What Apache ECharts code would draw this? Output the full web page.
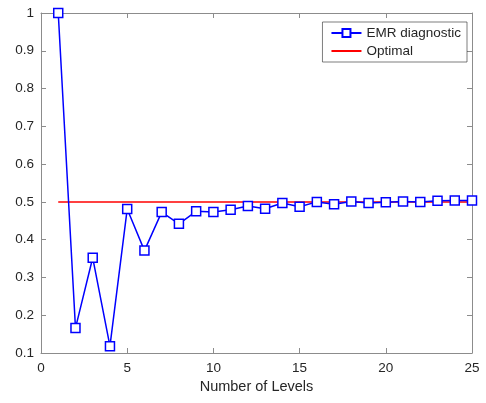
<!DOCTYPE html>
<html>
<head>
<meta charset="utf-8">
<script src="https://cdn.jsdelivr.net/npm/echarts@6/dist/echarts.min.js"></script>
<style>
  html, body { margin: 0; padding: 0; background: #fff; }
  #chart { width: 486px; height: 403px; }
</style>
</head>
<body>
<div id="chart"></div>
<script>
var levels = [1, 2, 3, 4, 5, 6, 7, 8, 9, 10, 11, 12, 13, 14, 15, 16, 17, 18, 19, 20, 21, 22, 23, 24, 25];
var emrDiagnostic = [1.0, 0.166, 0.352, 0.118, 0.481, 0.371, 0.473, 0.442, 0.475, 0.473, 0.479, 0.489, 0.482, 0.497, 0.487, 0.500, 0.494, 0.501, 0.497, 0.499, 0.501, 0.500, 0.503, 0.504, 0.504];
var optimalX = [1, 25];
var optimalY = [0.5, 0.5];

var axisColor = '#8c8c8c';
var textColor = '#262626';
var font = 'Helvetica, Arial, "Liberation Sans", sans-serif';

function pairs(xs, ys) {
  return xs.map(function (x, i) { return [x, ys[i]]; });
}

var chart = echarts.init(document.getElementById('chart'), null, { renderer: 'canvas' });

function boxAxis(extra) {
  var base = {
    axisLine: { show: true, onZero: false, lineStyle: { color: axisColor, width: 1 } },
    axisTick: { show: true, inside: true, length: 5, lineStyle: { color: axisColor } },
    splitLine: { show: false },
    axisLabel: { show: false }
  };
  return Object.assign(base, extra);
}

chart.setOption({
  backgroundColor: '#ffffff',
  animation: false,
  textStyle: { fontFamily: font },
  grid: { left: 41, right: 14, top: 13, bottom: 50, containLabel: false },
  legend: {
    orient: 'vertical',
    right: 19,
    top: 22,
    itemWidth: 30,
    itemHeight: 10,
    itemGap: 4,
    padding: [4, 6, 4, 8],
    backgroundColor: '#ffffff',
    borderColor: '#262626',
    borderWidth: 0.6,
    textStyle: { color: textColor, fontSize: 13.5, fontFamily: font },
    data: ['EMR diagnostic', 'Optimal']
  },
  xAxis: [
    boxAxis({
      type: 'value', min: 0, max: 25, interval: 5, position: 'bottom',
      name: 'Number of Levels', nameLocation: 'middle', nameGap: 25,
      nameTextStyle: { color: textColor, fontSize: 14.5, fontFamily: font },
      axisLabel: { show: true, color: textColor, fontSize: 13.5, margin: 8, fontFamily: font }
    }),
    boxAxis({ type: 'value', min: 0, max: 25, interval: 5, position: 'top' })
  ],
  yAxis: [
    boxAxis({
      type: 'value', min: 0.1, max: 1, interval: 0.1, position: 'left',
      axisLabel: {
        show: true, color: textColor, fontSize: 13.5, margin: 7, fontFamily: font,
        formatter: function (v) { return String(+v.toFixed(1)); }
      }
    }),
    boxAxis({ type: 'value', min: 0.1, max: 1, interval: 0.1, position: 'right' })
  ],
  series: [
    {
      name: 'EMR diagnostic',
      type: 'line',
      data: pairs(levels, emrDiagnostic),
      symbol: 'rect',
      symbolSize: 9,
      lineStyle: { color: '#0000ff', width: 1.5 },
      itemStyle: { color: '#ffffff', borderColor: '#0000ff', borderWidth: 1.5 },
      z: 3
    },
    {
      name: 'Optimal',
      type: 'line',
      data: pairs(optimalX, optimalY),
      symbol: 'none',
      lineStyle: { color: '#ff0000', width: 1.5 },
      itemStyle: { color: '#ff0000', opacity: 0 },
      z: 2
    }
  ]
});
</script>
</body>
</html>
